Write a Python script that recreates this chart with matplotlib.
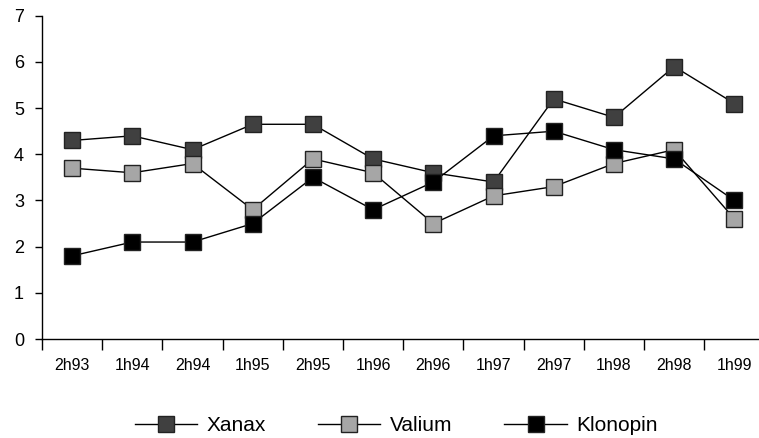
import matplotlib
matplotlib.use("Agg")
import matplotlib.pyplot as plt
import numpy as np

periods = ["2h93", "1h94", "2h94", "1h95", "2h95", "1h96",
           "2h96", "1h97", "2h97", "1h98", "2h98", "1h99"]
xanax = [4.3, 4.4, 4.1, 4.65, 4.65, 3.9, 3.6, 3.4, 5.2, 4.8, 5.9, 5.1]
valium = [3.7, 3.6, 3.8, 2.8, 3.9, 3.6, 2.5, 3.1, 3.3, 3.8, 4.1, 2.6]
klonopin = [1.8, 2.1, 2.1, 2.5, 3.5, 2.8, 3.4, 4.4, 4.5, 4.1, 3.9, 3.0]

plt.rcParams['font.family'] = ['Liberation Sans', 'DejaVu Sans']

fig = plt.figure(figsize=(7.59, 4.38), dpi=100)
ax = fig.add_axes([0.0553, 0.226, 0.952, 0.738])

x = np.arange(len(periods))
series = [("Xanax", xanax, "#404040"),
          ("Valium", valium, "#a6a6a6"),
          ("Klonopin", klonopin, "#000000")]
for name, vals, col in series:
    ax.plot(x, vals, color="black", lw=1, marker="s", markersize=11.5,
            markerfacecolor=col, markeredgecolor="#222222", markeredgewidth=1,
            label=name)

ax.set_xlim(-0.5, len(periods) - 0.5)
ax.set_ylim(0, 7)
ax.set_yticks(range(0, 8))
ax.tick_params(axis="y", labelsize=13, length=5, width=1, pad=8)

# ticks between categories, labels centred under each category
ax.set_xticks(np.arange(-0.5, len(periods), 1.0))
ax.set_xticklabels([])
ax.tick_params(axis="x", which="major", length=8, width=1, direction="out")
ax.set_xticks(x, minor=True)
ax.set_xticklabels(periods, minor=True, fontsize=11.5)
ax.tick_params(axis="x", which="minor", length=0, pad=14)

for s in ["top", "right"]:
    ax.spines[s].set_visible(False)
ax.spines["left"].set_linewidth(1)
ax.spines["bottom"].set_linewidth(1)

fig.legend(loc="center", bbox_to_anchor=(0.522, 0.028), ncol=3, frameon=False,
           fontsize=15, handlelength=3.0, columnspacing=2.5, handletextpad=0.45)

fig.savefig("out.png", dpi=100)
